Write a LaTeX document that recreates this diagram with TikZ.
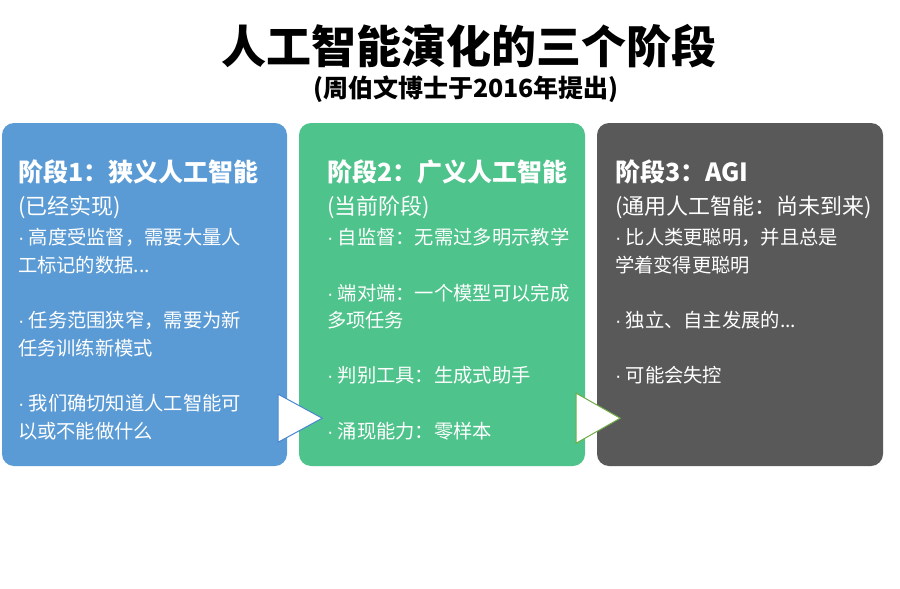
\documentclass[tikz,border=0pt]{standalone}
\usepackage{fontspec}
\setmainfont{Noto Sans CJK SC}
\newfontfamily\dotfont{Liberation Sans}
\newcommand{\bul}{{\dotfont ·} }
\usetikzlibrary{calc}
\definecolor{stageblue}{HTML}{5B9BD5}
\definecolor{stagegreen}{HTML}{4EC38B}
\definecolor{stagegray}{HTML}{595959}
\definecolor{triblue}{HTML}{4A86D0}
\definecolor{trigreen}{HTML}{70AD47}
\tikzset{
  stagebox/.style={rectangle,rounded corners=12pt,minimum width=285pt,minimum height=343pt,inner sep=0pt},
  headtxt/.style={anchor=base west,inner sep=0pt,text=white,font=\fontsize{25}{29}\selectfont\bfseries},
  subtxt/.style={anchor=base west,inner sep=0pt,text=white,font=\fontsize{22}{26}\selectfont},
  bodytxt/.style={anchor=base west,inner sep=0pt,text=white,align=left,font=\fontsize{19.3}{27.6}\selectfont},
  nexttri/.style={fill=white,line width=1pt,line join=miter}
}

\begin{document}
\begin{tikzpicture}[x=1pt,y=-1pt]
  \useasboundingbox (0,0) rectangle (900,589);
  \node[font=\fontsize{45}{52}\selectfont\bfseries] (title) at (469,46) {人工智能演化的三个阶段};
  \node[font=\fontsize{25}{30}\selectfont\bfseries] (subtitle) at (466,89) {(周伯文博士于2016年提出)};

  % stage boxes
  \node[stagebox,fill=stageblue] (s1) at (144.5,294.5) {};
  \node[stagebox,fill=stagegreen,minimum width=286pt] (s2) at (442,294.5) {};
  \node[stagebox,fill=stagegray,minimum width=286pt] (s3) at (740,294.5) {};

  % arrows between stages
  \draw[nexttri,draw=triblue] ($(s1.south east)+(-9,-72)$) -- ($(s1.south east)+(35,-48)$) -- ($(s1.south east)+(-9,-24)$) -- cycle;
  \draw[nexttri,draw=trigreen] ($(s2.south east)+(-9,-73)$) -- ($(s2.south east)+(35,-48)$) -- ($(s2.south east)+(-9,-23)$) -- cycle;

  % stage 1 (body anchored at the baseline of its last line)
  \node[headtxt] (h1) at ($(s1.north west)+(16,59)$) {阶段1：狭义人工智能};
  \node[subtxt] (u1) at ($(s1.north west)+(16,92)$) {(已经实现)};
  \node[bodytxt] (b1) at ($(s1.north west)+(16,315.2)$) {\bul 高度受监督，需要大量人\\工标记的数据...\\[27.6pt]\bul 任务范围狭窄，需要为新\\任务训练新模式\\[27.6pt]\bul 我们确切知道人工智能可\\以或不能做什么};

  % stage 2
  \node[headtxt] (h2) at ($(s2.north west)+(28,59)$) {阶段2：广义人工智能};
  \node[subtxt] (u2) at ($(s2.north west)+(28,92)$) {(当前阶段)};
  \node[bodytxt] (b2) at ($(s2.north west)+(28,315.2)$) {\bul 自监督：无需过多明示教学\\[27.6pt]\bul 端对端：一个模型可以完成\\多项任务\\[27.6pt]\bul 判别工具：生成式助手\\[27.6pt]\bul 涌现能力：零样本};

  % stage 3
  \node[headtxt] (h3) at ($(s3.north west)+(18,59)$) {阶段3：AGI};
  \node[subtxt] (u3) at ($(s3.north west)+(18,92)$) {(通用人工智能：尚未到来)};
  \node[bodytxt] (b3) at ($(s3.north west)+(18,260)$) {\bul 比人类更聪明，并且总是\\学着变得更聪明\\[27.6pt]\bul 独立、自主发展的...\\[27.6pt]\bul 可能会失控};
\end{tikzpicture}
\end{document}
